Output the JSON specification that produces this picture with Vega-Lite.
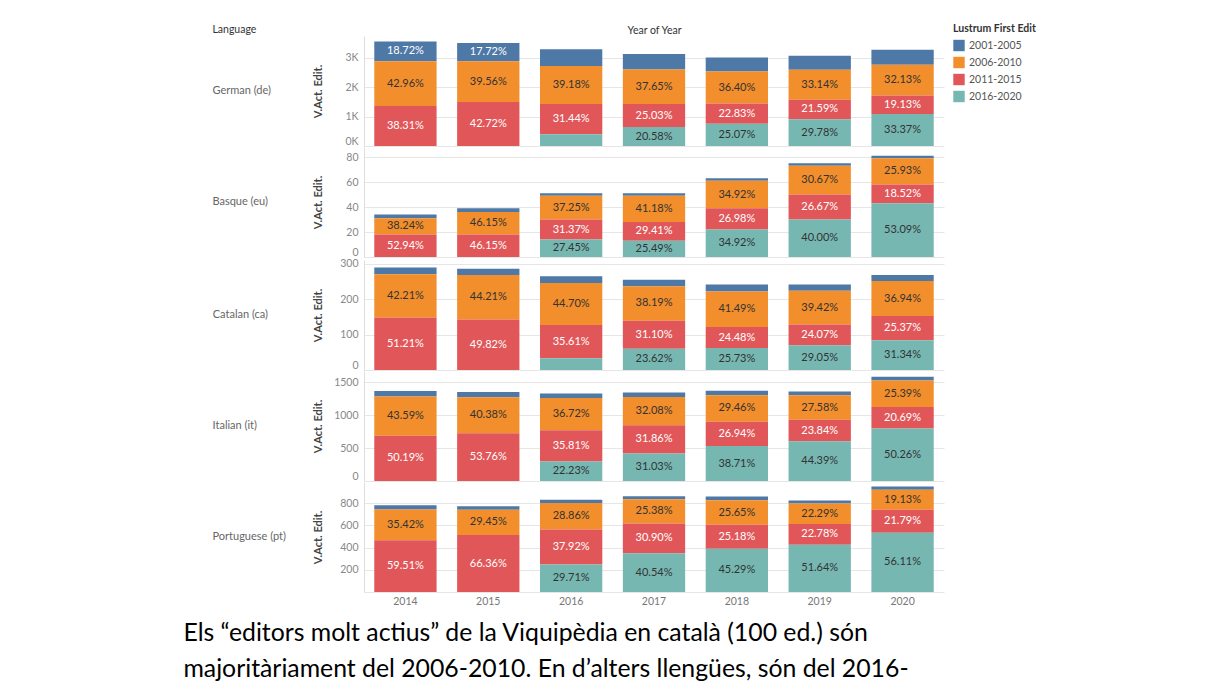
{
  "$schema": "https://vega.github.io/schema/vega-lite/v6.json",
  "padding": {"left": 183, "top": 24, "right": 5, "bottom": 0},
  "background": "white",
  "data": {"values": [
    {"lang": "German (de)", "year": "2014", "lustrum": "2001-2005", "value": 662.7, "label": "18.72%"},
    {"lang": "German (de)", "year": "2014", "lustrum": "2006-2010", "value": 1520.8, "label": "42.96%"},
    {"lang": "German (de)", "year": "2014", "lustrum": "2011-2015", "value": 1356.2, "label": "38.31%"},
    {"lang": "German (de)", "year": "2015", "lustrum": "2001-2005", "value": 618.4, "label": "17.72%"},
    {"lang": "German (de)", "year": "2015", "lustrum": "2006-2010", "value": 1380.6, "label": "39.56%"},
    {"lang": "German (de)", "year": "2015", "lustrum": "2011-2015", "value": 1490.9, "label": "42.72%"},
    {"lang": "German (de)", "year": "2016", "lustrum": "2001-2005", "value": 566.8, "label": ""},
    {"lang": "German (de)", "year": "2016", "lustrum": "2006-2010", "value": 1285.1, "label": "39.18%"},
    {"lang": "German (de)", "year": "2016", "lustrum": "2011-2015", "value": 1031.2, "label": "31.44%"},
    {"lang": "German (de)", "year": "2016", "lustrum": "2016-2020", "value": 396.9, "label": ""},
    {"lang": "German (de)", "year": "2017", "lustrum": "2001-2005", "value": 522.3, "label": ""},
    {"lang": "German (de)", "year": "2017", "lustrum": "2006-2010", "value": 1174.7, "label": "37.65%"},
    {"lang": "German (de)", "year": "2017", "lustrum": "2011-2015", "value": 780.9, "label": "25.03%"},
    {"lang": "German (de)", "year": "2017", "lustrum": "2016-2020", "value": 642.1, "label": "20.58%"},
    {"lang": "German (de)", "year": "2018", "lustrum": "2001-2005", "value": 471.0, "label": ""},
    {"lang": "German (de)", "year": "2018", "lustrum": "2006-2010", "value": 1092.0, "label": "36.40%"},
    {"lang": "German (de)", "year": "2018", "lustrum": "2011-2015", "value": 684.9, "label": "22.83%"},
    {"lang": "German (de)", "year": "2018", "lustrum": "2016-2020", "value": 752.1, "label": "25.07%"},
    {"lang": "German (de)", "year": "2019", "lustrum": "2001-2005", "value": 474.0, "label": ""},
    {"lang": "German (de)", "year": "2019", "lustrum": "2006-2010", "value": 1014.1, "label": "33.14%"},
    {"lang": "German (de)", "year": "2019", "lustrum": "2011-2015", "value": 660.7, "label": "21.59%"},
    {"lang": "German (de)", "year": "2019", "lustrum": "2016-2020", "value": 911.3, "label": "29.78%"},
    {"lang": "German (de)", "year": "2020", "lustrum": "2001-2005", "value": 501.1, "label": ""},
    {"lang": "German (de)", "year": "2020", "lustrum": "2006-2010", "value": 1047.4, "label": "32.13%"},
    {"lang": "German (de)", "year": "2020", "lustrum": "2011-2015", "value": 623.6, "label": "19.13%"},
    {"lang": "German (de)", "year": "2020", "lustrum": "2016-2020", "value": 1087.9, "label": "33.37%"},

    {"lang": "Basque (eu)", "year": "2014", "lustrum": "2001-2005", "value": 3, "label": ""},
    {"lang": "Basque (eu)", "year": "2014", "lustrum": "2006-2010", "value": 13, "label": "38.24%"},
    {"lang": "Basque (eu)", "year": "2014", "lustrum": "2011-2015", "value": 18, "label": "52.94%"},
    {"lang": "Basque (eu)", "year": "2015", "lustrum": "2001-2005", "value": 3, "label": ""},
    {"lang": "Basque (eu)", "year": "2015", "lustrum": "2006-2010", "value": 18, "label": "46.15%"},
    {"lang": "Basque (eu)", "year": "2015", "lustrum": "2011-2015", "value": 18, "label": "46.15%"},
    {"lang": "Basque (eu)", "year": "2016", "lustrum": "2001-2005", "value": 2, "label": ""},
    {"lang": "Basque (eu)", "year": "2016", "lustrum": "2006-2010", "value": 19, "label": "37.25%"},
    {"lang": "Basque (eu)", "year": "2016", "lustrum": "2011-2015", "value": 16, "label": "31.37%"},
    {"lang": "Basque (eu)", "year": "2016", "lustrum": "2016-2020", "value": 14, "label": "27.45%"},
    {"lang": "Basque (eu)", "year": "2017", "lustrum": "2001-2005", "value": 2, "label": ""},
    {"lang": "Basque (eu)", "year": "2017", "lustrum": "2006-2010", "value": 21, "label": "41.18%"},
    {"lang": "Basque (eu)", "year": "2017", "lustrum": "2011-2015", "value": 15, "label": "29.41%"},
    {"lang": "Basque (eu)", "year": "2017", "lustrum": "2016-2020", "value": 13, "label": "25.49%"},
    {"lang": "Basque (eu)", "year": "2018", "lustrum": "2001-2005", "value": 2, "label": ""},
    {"lang": "Basque (eu)", "year": "2018", "lustrum": "2006-2010", "value": 22, "label": "34.92%"},
    {"lang": "Basque (eu)", "year": "2018", "lustrum": "2011-2015", "value": 17, "label": "26.98%"},
    {"lang": "Basque (eu)", "year": "2018", "lustrum": "2016-2020", "value": 22, "label": "34.92%"},
    {"lang": "Basque (eu)", "year": "2019", "lustrum": "2001-2005", "value": 2, "label": ""},
    {"lang": "Basque (eu)", "year": "2019", "lustrum": "2006-2010", "value": 23, "label": "30.67%"},
    {"lang": "Basque (eu)", "year": "2019", "lustrum": "2011-2015", "value": 20, "label": "26.67%"},
    {"lang": "Basque (eu)", "year": "2019", "lustrum": "2016-2020", "value": 30, "label": "40.00%"},
    {"lang": "Basque (eu)", "year": "2020", "lustrum": "2001-2005", "value": 2, "label": ""},
    {"lang": "Basque (eu)", "year": "2020", "lustrum": "2006-2010", "value": 21, "label": "25.93%"},
    {"lang": "Basque (eu)", "year": "2020", "lustrum": "2011-2015", "value": 15, "label": "18.52%"},
    {"lang": "Basque (eu)", "year": "2020", "lustrum": "2016-2020", "value": 43, "label": "53.09%"},

    {"lang": "Catalan (ca)", "year": "2014", "lustrum": "2001-2005", "value": 19, "label": ""},
    {"lang": "Catalan (ca)", "year": "2014", "lustrum": "2006-2010", "value": 122, "label": "42.21%"},
    {"lang": "Catalan (ca)", "year": "2014", "lustrum": "2011-2015", "value": 148, "label": "51.21%"},
    {"lang": "Catalan (ca)", "year": "2015", "lustrum": "2001-2005", "value": 17, "label": ""},
    {"lang": "Catalan (ca)", "year": "2015", "lustrum": "2006-2010", "value": 126, "label": "44.21%"},
    {"lang": "Catalan (ca)", "year": "2015", "lustrum": "2011-2015", "value": 142, "label": "49.82%"},
    {"lang": "Catalan (ca)", "year": "2016", "lustrum": "2001-2005", "value": 19, "label": ""},
    {"lang": "Catalan (ca)", "year": "2016", "lustrum": "2006-2010", "value": 118, "label": "44.70%"},
    {"lang": "Catalan (ca)", "year": "2016", "lustrum": "2011-2015", "value": 94, "label": "35.61%"},
    {"lang": "Catalan (ca)", "year": "2016", "lustrum": "2016-2020", "value": 33, "label": ""},
    {"lang": "Catalan (ca)", "year": "2017", "lustrum": "2001-2005", "value": 18, "label": ""},
    {"lang": "Catalan (ca)", "year": "2017", "lustrum": "2006-2010", "value": 97, "label": "38.19%"},
    {"lang": "Catalan (ca)", "year": "2017", "lustrum": "2011-2015", "value": 79, "label": "31.10%"},
    {"lang": "Catalan (ca)", "year": "2017", "lustrum": "2016-2020", "value": 60, "label": "23.62%"},
    {"lang": "Catalan (ca)", "year": "2018", "lustrum": "2001-2005", "value": 20, "label": ""},
    {"lang": "Catalan (ca)", "year": "2018", "lustrum": "2006-2010", "value": 100, "label": "41.49%"},
    {"lang": "Catalan (ca)", "year": "2018", "lustrum": "2011-2015", "value": 59, "label": "24.48%"},
    {"lang": "Catalan (ca)", "year": "2018", "lustrum": "2016-2020", "value": 62, "label": "25.73%"},
    {"lang": "Catalan (ca)", "year": "2019", "lustrum": "2001-2005", "value": 18, "label": ""},
    {"lang": "Catalan (ca)", "year": "2019", "lustrum": "2006-2010", "value": 95, "label": "39.42%"},
    {"lang": "Catalan (ca)", "year": "2019", "lustrum": "2011-2015", "value": 58, "label": "24.07%"},
    {"lang": "Catalan (ca)", "year": "2019", "lustrum": "2016-2020", "value": 70, "label": "29.05%"},
    {"lang": "Catalan (ca)", "year": "2020", "lustrum": "2001-2005", "value": 17, "label": ""},
    {"lang": "Catalan (ca)", "year": "2020", "lustrum": "2006-2010", "value": 99, "label": "36.94%"},
    {"lang": "Catalan (ca)", "year": "2020", "lustrum": "2011-2015", "value": 68, "label": "25.37%"},
    {"lang": "Catalan (ca)", "year": "2020", "lustrum": "2016-2020", "value": 84, "label": "31.34%"},

    {"lang": "Italian (it)", "year": "2014", "lustrum": "2001-2005", "value": 84.9, "label": ""},
    {"lang": "Italian (it)", "year": "2014", "lustrum": "2006-2010", "value": 595.0, "label": "43.59%"},
    {"lang": "Italian (it)", "year": "2014", "lustrum": "2011-2015", "value": 685.1, "label": "50.19%"},
    {"lang": "Italian (it)", "year": "2015", "lustrum": "2001-2005", "value": 79.0, "label": ""},
    {"lang": "Italian (it)", "year": "2015", "lustrum": "2006-2010", "value": 544.3, "label": "40.38%"},
    {"lang": "Italian (it)", "year": "2015", "lustrum": "2011-2015", "value": 724.7, "label": "53.76%"},
    {"lang": "Italian (it)", "year": "2016", "lustrum": "2001-2005", "value": 69.5, "label": ""},
    {"lang": "Italian (it)", "year": "2016", "lustrum": "2006-2010", "value": 487.3, "label": "36.72%"},
    {"lang": "Italian (it)", "year": "2016", "lustrum": "2011-2015", "value": 475.2, "label": "35.81%"},
    {"lang": "Italian (it)", "year": "2016", "lustrum": "2016-2020", "value": 295.0, "label": "22.23%"},
    {"lang": "Italian (it)", "year": "2017", "lustrum": "2001-2005", "value": 67.5, "label": ""},
    {"lang": "Italian (it)", "year": "2017", "lustrum": "2006-2010", "value": 430.5, "label": "32.08%"},
    {"lang": "Italian (it)", "year": "2017", "lustrum": "2011-2015", "value": 427.6, "label": "31.86%"},
    {"lang": "Italian (it)", "year": "2017", "lustrum": "2016-2020", "value": 416.4, "label": "31.03%"},
    {"lang": "Italian (it)", "year": "2018", "lustrum": "2001-2005", "value": 66.9, "label": ""},
    {"lang": "Italian (it)", "year": "2018", "lustrum": "2006-2010", "value": 403.0, "label": "29.46%"},
    {"lang": "Italian (it)", "year": "2018", "lustrum": "2011-2015", "value": 368.5, "label": "26.94%"},
    {"lang": "Italian (it)", "year": "2018", "lustrum": "2016-2020", "value": 529.6, "label": "38.71%"},
    {"lang": "Italian (it)", "year": "2019", "lustrum": "2001-2005", "value": 56.9, "label": ""},
    {"lang": "Italian (it)", "year": "2019", "lustrum": "2006-2010", "value": 374.5, "label": "27.58%"},
    {"lang": "Italian (it)", "year": "2019", "lustrum": "2011-2015", "value": 323.7, "label": "23.84%"},
    {"lang": "Italian (it)", "year": "2019", "lustrum": "2016-2020", "value": 602.8, "label": "44.39%"},
    {"lang": "Italian (it)", "year": "2020", "lustrum": "2001-2005", "value": 57.8, "label": ""},
    {"lang": "Italian (it)", "year": "2020", "lustrum": "2006-2010", "value": 401.2, "label": "25.39%"},
    {"lang": "Italian (it)", "year": "2020", "lustrum": "2011-2015", "value": 326.9, "label": "20.69%"},
    {"lang": "Italian (it)", "year": "2020", "lustrum": "2016-2020", "value": 794.1, "label": "50.26%"},

    {"lang": "Portuguese (pt)", "year": "2014", "lustrum": "2001-2005", "value": 39.6, "label": ""},
    {"lang": "Portuguese (pt)", "year": "2014", "lustrum": "2006-2010", "value": 276.6, "label": "35.42%"},
    {"lang": "Portuguese (pt)", "year": "2014", "lustrum": "2011-2015", "value": 464.8, "label": "59.51%"},
    {"lang": "Portuguese (pt)", "year": "2015", "lustrum": "2001-2005", "value": 32.3, "label": ""},
    {"lang": "Portuguese (pt)", "year": "2015", "lustrum": "2006-2010", "value": 227.4, "label": "29.45%"},
    {"lang": "Portuguese (pt)", "year": "2015", "lustrum": "2011-2015", "value": 512.3, "label": "66.36%"},
    {"lang": "Portuguese (pt)", "year": "2016", "lustrum": "2001-2005", "value": 29.2, "label": ""},
    {"lang": "Portuguese (pt)", "year": "2016", "lustrum": "2006-2010", "value": 239.8, "label": "28.86%"},
    {"lang": "Portuguese (pt)", "year": "2016", "lustrum": "2011-2015", "value": 315.1, "label": "37.92%"},
    {"lang": "Portuguese (pt)", "year": "2016", "lustrum": "2016-2020", "value": 246.9, "label": "29.71%"},
    {"lang": "Portuguese (pt)", "year": "2017", "lustrum": "2001-2005", "value": 27.4, "label": ""},
    {"lang": "Portuguese (pt)", "year": "2017", "lustrum": "2006-2010", "value": 218.8, "label": "25.38%"},
    {"lang": "Portuguese (pt)", "year": "2017", "lustrum": "2011-2015", "value": 266.4, "label": "30.90%"},
    {"lang": "Portuguese (pt)", "year": "2017", "lustrum": "2016-2020", "value": 349.5, "label": "40.54%"},
    {"lang": "Portuguese (pt)", "year": "2018", "lustrum": "2001-2005", "value": 33.3, "label": ""},
    {"lang": "Portuguese (pt)", "year": "2018", "lustrum": "2006-2010", "value": 220.3, "label": "25.65%"},
    {"lang": "Portuguese (pt)", "year": "2018", "lustrum": "2011-2015", "value": 216.3, "label": "25.18%"},
    {"lang": "Portuguese (pt)", "year": "2018", "lustrum": "2016-2020", "value": 389.0, "label": "45.29%"},
    {"lang": "Portuguese (pt)", "year": "2019", "lustrum": "2001-2005", "value": 27.1, "label": ""},
    {"lang": "Portuguese (pt)", "year": "2019", "lustrum": "2006-2010", "value": 183.4, "label": "22.29%"},
    {"lang": "Portuguese (pt)", "year": "2019", "lustrum": "2011-2015", "value": 187.5, "label": "22.78%"},
    {"lang": "Portuguese (pt)", "year": "2019", "lustrum": "2016-2020", "value": 425.0, "label": "51.64%"},
    {"lang": "Portuguese (pt)", "year": "2020", "lustrum": "2001-2005", "value": 28.2, "label": ""},
    {"lang": "Portuguese (pt)", "year": "2020", "lustrum": "2006-2010", "value": 181.5, "label": "19.13%"},
    {"lang": "Portuguese (pt)", "year": "2020", "lustrum": "2011-2015", "value": 206.8, "label": "21.79%"},
    {"lang": "Portuguese (pt)", "year": "2020", "lustrum": "2016-2020", "value": 532.5, "label": "56.11%"}
  ]},
  "title": {
    "text": ["Els “editors molt actius” de la Viquipèdia en català (100 ed.) són", "majoritàriament del 2006-2010. En d’alters llengües, són del 2016-"],
    "orient": "bottom", "anchor": "start", "frame": "bounds",
    "font": "Lato", "fontSize": 24.8, "fontWeight": "normal", "color": "#000000",
    "lineHeight": 36.5, "offset": 14, "dx": -29
  },
  "vconcat": [
    {
      "title": {"text": "Language", "orient": "top", "anchor": "start", "frame": "bounds", "font": "Lato", "fontSize": 10.5, "fontWeight": "normal", "color": "#333333", "offset": -10},
      "spacing": 0,
      "vconcat": [
        {
          "title": {"text": "German (de)", "orient": "left", "anchor": "middle", "angle": 0, "align": "left", "baseline": "middle", "dx": -41, "font": "Lato", "fontSize": 11, "fontWeight": "normal", "color": "#666666", "offset": 0},
          "width": 580, "height": 110,
          "transform": [{"filter": "datum.lang === 'German (de)'"}],
          "encoding": {
            "x": {"field": "year", "type": "ordinal", "scale": {"paddingInner": 0.248, "paddingOuter": 0.124},
                  "axis": {"orient": "top", "title": "Year of Year", "labels": false, "ticks": false, "domain": false, "titleY": -1, "titleBaseline": "bottom"}},
            "order": {"field": "lustrum", "sort": "descending"}
          },
          "layer": [
            {"mark": {"type": "bar"},
             "encoding": {
               "y": {"field": "value", "type": "quantitative", "stack": "zero", "scale": {"domain": [0, 3730], "nice": false},
                     "axis": {"title": "V.Act. Edit.", "values": [0, 1000, 2000, 3000], "labelExpr": "(datum.value / 1000) + 'K'", "labelOverlap": false}},
               "color": {"field": "lustrum", "type": "nominal",
                         "scale": {"domain": ["2001-2005", "2006-2010", "2011-2015", "2016-2020"], "range": ["#4e79a7", "#f28e2b", "#e15759", "#76b7b2"]},
                         "legend": {"title": "Lustrum First Edit", "orient": "none", "legendX": 589, "legendY": -12}}}},
            {"mark": {"type": "text", "font": "Lato", "fontSize": 11},
             "encoding": {
               "y": {"field": "value", "type": "quantitative", "stack": "zero", "bandPosition": 0.5,
                     "axis": {"title": "V.Act. Edit.", "values": [0, 1000, 2000, 3000], "labelExpr": "(datum.value / 1000) + 'K'", "labelOverlap": false}},
               "detail": {"field": "lustrum"},
               "text": {"field": "label"},
               "color": {"condition": {"test": "datum.lustrum === '2011-2015' || datum.lustrum === '2001-2005'", "value": "#ffffff"}, "value": "#333333"}}}
          ]
        },
        {
          "title": {"text": "Basque (eu)", "orient": "left", "anchor": "middle", "angle": 0, "align": "left", "baseline": "middle", "dx": -44, "font": "Lato", "fontSize": 11, "fontWeight": "normal", "color": "#666666", "offset": 0},
          "width": 580, "height": 110,
          "transform": [{"filter": "datum.lang === 'Basque (eu)'"}],
          "encoding": {
            "x": {"field": "year", "type": "ordinal", "scale": {"paddingInner": 0.248, "paddingOuter": 0.124}, "axis": null},
            "order": {"field": "lustrum", "sort": "descending"}
          },
          "layer": [
            {"mark": {"type": "bar"},
             "encoding": {
               "y": {"field": "value", "type": "quantitative", "stack": "zero", "scale": {"domain": [0, 88], "nice": false},
                     "axis": {"title": "V.Act. Edit.", "values": [0, 20, 40, 60, 80], "labelOverlap": false}},
               "color": {"field": "lustrum", "type": "nominal",
                         "scale": {"domain": ["2001-2005", "2006-2010", "2011-2015", "2016-2020"], "range": ["#4e79a7", "#f28e2b", "#e15759", "#76b7b2"]},
                         "legend": {"title": "Lustrum First Edit", "orient": "none", "legendX": 589, "legendY": -12}}}},
            {"mark": {"type": "text", "font": "Lato", "fontSize": 11},
             "encoding": {
               "y": {"field": "value", "type": "quantitative", "stack": "zero", "bandPosition": 0.5,
                     "axis": {"title": "V.Act. Edit.", "values": [0, 20, 40, 60, 80], "labelOverlap": false}},
               "detail": {"field": "lustrum"},
               "text": {"field": "label"},
               "color": {"condition": {"test": "datum.lustrum === '2011-2015' || datum.lustrum === '2001-2005'", "value": "#ffffff"}, "value": "#333333"}}}
          ]
        },
        {
          "title": {"text": "Catalan (ca)", "orient": "left", "anchor": "middle", "angle": 0, "align": "left", "baseline": "middle", "dx": -44, "font": "Lato", "fontSize": 11, "fontWeight": "normal", "color": "#666666", "offset": 0},
          "width": 580, "height": 110,
          "transform": [{"filter": "datum.lang === 'Catalan (ca)'"}],
          "encoding": {
            "x": {"field": "year", "type": "ordinal", "scale": {"paddingInner": 0.248, "paddingOuter": 0.124}, "axis": null},
            "order": {"field": "lustrum", "sort": "descending"}
          },
          "layer": [
            {"mark": {"type": "bar"},
             "encoding": {
               "y": {"field": "value", "type": "quantitative", "stack": "zero", "scale": {"domain": [0, 310], "nice": false},
                     "axis": {"title": "V.Act. Edit.", "values": [0, 100, 200, 300], "labelOverlap": false}},
               "color": {"field": "lustrum", "type": "nominal",
                         "scale": {"domain": ["2001-2005", "2006-2010", "2011-2015", "2016-2020"], "range": ["#4e79a7", "#f28e2b", "#e15759", "#76b7b2"]},
                         "legend": {"title": "Lustrum First Edit", "orient": "none", "legendX": 589, "legendY": -12}}}},
            {"mark": {"type": "text", "font": "Lato", "fontSize": 11},
             "encoding": {
               "y": {"field": "value", "type": "quantitative", "stack": "zero", "bandPosition": 0.5,
                     "axis": {"title": "V.Act. Edit.", "values": [0, 100, 200, 300], "labelOverlap": false}},
               "detail": {"field": "lustrum"},
               "text": {"field": "label"},
               "color": {"condition": {"test": "datum.lustrum === '2011-2015' || datum.lustrum === '2001-2005'", "value": "#ffffff"}, "value": "#333333"}}}
          ]
        },
        {
          "title": {"text": "Italian (it)", "orient": "left", "anchor": "middle", "angle": 0, "align": "left", "baseline": "middle", "dx": -55, "font": "Lato", "fontSize": 11, "fontWeight": "normal", "color": "#666666", "offset": 0},
          "width": 580, "height": 110,
          "transform": [{"filter": "datum.lang === 'Italian (it)'"}],
          "encoding": {
            "x": {"field": "year", "type": "ordinal", "scale": {"paddingInner": 0.248, "paddingOuter": 0.124}, "axis": null},
            "order": {"field": "lustrum", "sort": "descending"}
          },
          "layer": [
            {"mark": {"type": "bar"},
             "encoding": {
               "y": {"field": "value", "type": "quantitative", "stack": "zero", "scale": {"domain": [0, 1667], "nice": false},
                     "axis": {"title": "V.Act. Edit.", "values": [0, 500, 1000, 1500], "format": "d", "labelOverlap": false}},
               "color": {"field": "lustrum", "type": "nominal",
                         "scale": {"domain": ["2001-2005", "2006-2010", "2011-2015", "2016-2020"], "range": ["#4e79a7", "#f28e2b", "#e15759", "#76b7b2"]},
                         "legend": {"title": "Lustrum First Edit", "orient": "none", "legendX": 589, "legendY": -12}}}},
            {"mark": {"type": "text", "font": "Lato", "fontSize": 11},
             "encoding": {
               "y": {"field": "value", "type": "quantitative", "stack": "zero", "bandPosition": 0.5,
                     "axis": {"title": "V.Act. Edit.", "values": [0, 500, 1000, 1500], "format": "d", "labelOverlap": false}},
               "detail": {"field": "lustrum"},
               "text": {"field": "label"},
               "color": {"condition": {"test": "datum.lustrum === '2011-2015' || datum.lustrum === '2001-2005'", "value": "#ffffff"}, "value": "#333333"}}}
          ]
        },
        {
          "title": {"text": "Portuguese (pt)", "orient": "left", "anchor": "middle", "angle": 0, "align": "left", "baseline": "middle", "dx": -26, "font": "Lato", "fontSize": 11, "fontWeight": "normal", "color": "#666666", "offset": 0},
          "width": 580, "height": 110,
          "transform": [{"filter": "datum.lang === 'Portuguese (pt)'"}],
          "encoding": {
            "x": {"field": "year", "type": "ordinal", "scale": {"paddingInner": 0.248, "paddingOuter": 0.124},
                  "axis": {"orient": "bottom", "title": null, "labelAngle": 0, "ticks": false, "domain": false, "labelPadding": 4, "labelColor": "#777777"}},
            "order": {"field": "lustrum", "sort": "descending"}
          },
          "layer": [
            {"mark": {"type": "bar"},
             "encoding": {
               "y": {"field": "value", "type": "quantitative", "stack": "zero", "scale": {"domain": [0, 990], "nice": false},
                     "axis": {"title": "V.Act. Edit.", "values": [0, 200, 400, 600, 800], "labelExpr": "datum.value === 0 ? '' : datum.label", "labelOverlap": false}},
               "color": {"field": "lustrum", "type": "nominal",
                         "scale": {"domain": ["2001-2005", "2006-2010", "2011-2015", "2016-2020"], "range": ["#4e79a7", "#f28e2b", "#e15759", "#76b7b2"]},
                         "legend": {"title": "Lustrum First Edit", "orient": "none", "legendX": 589, "legendY": -12}}}},
            {"mark": {"type": "text", "font": "Lato", "fontSize": 11},
             "encoding": {
               "y": {"field": "value", "type": "quantitative", "stack": "zero", "bandPosition": 0.5,
                     "axis": {"title": "V.Act. Edit.", "values": [0, 200, 400, 600, 800], "labelExpr": "datum.value === 0 ? '' : datum.label", "labelOverlap": false}},
               "detail": {"field": "lustrum"},
               "text": {"field": "label"},
               "color": {"condition": {"test": "datum.lustrum === '2011-2015' || datum.lustrum === '2001-2005'", "value": "#ffffff"}, "value": "#333333"}}}
          ]
        }
      ]
    }
  ],
  "config": {
    "font": "Lato",
    "view": {"stroke": null},
    "axis": {"labelFont": "Lato", "titleFont": "Lato", "labelColor": "#888888", "labelFontSize": 10.5, "titleFontSize": 10.5, "titleColor": "#333333", "titleFontWeight": "normal", "ticks": false, "domain": false, "labelOverlap": false},
    "axisY": {"grid": true, "gridColor": "#e6e6e6", "domain": true, "domainColor": "#dddddd", "labelPadding": 6, "titleFontWeight": "bold", "titleColor": "#444444", "titleFontSize": 11, "titleX": -41, "labelFlush": true, "labelOverlap": false},
    "legend": {"titleFont": "Lato", "labelFont": "Lato", "titleFontSize": 10.5, "titleFontWeight": "bold", "titleColor": "#333333", "labelFontSize": 10.5, "labelColor": "#555555", "symbolType": "square", "symbolSize": 130, "symbolStrokeWidth": 0, "rowPadding": 5, "titlePadding": 5}
  }
}
